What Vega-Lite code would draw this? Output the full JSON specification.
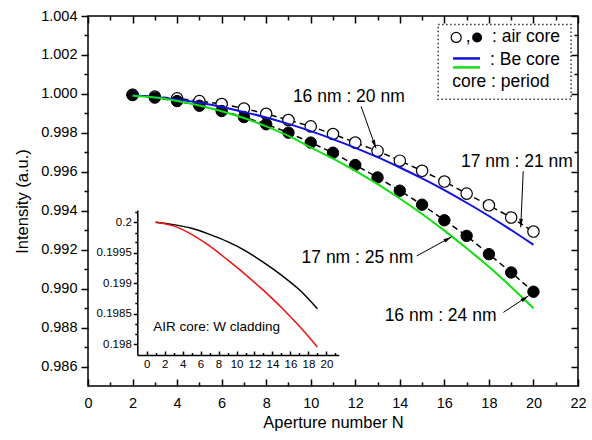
{
  "$schema": "https://vega.github.io/schema/vega-lite/v6.json",
  "width": 490,
  "height": 370,
  "autosize": {"type": "none"},
  "padding": {"left": 88, "top": 16, "right": 14, "bottom": 54},
  "config": {
    "font": "Liberation Sans",
    "view": {"stroke": "black", "strokeWidth": 1.5},
    "axis": {"grid": false, "domainColor": "black", "tickColor": "black", "labelColor": "black", "titleColor": "black", "domainWidth": 1.5, "tickWidth": 1.5, "labelFont": "Liberation Sans", "titleFont": "Liberation Sans", "titleFontWeight": "normal", "labelFlush": false, "labelOverlap": false},
    "text": {"font": "Liberation Sans"}
  },
  "datasets": {
    "air": [
      {"series": "open", "N": 2, "v": 0.99995}, {"series": "open", "N": 3, "v": 0.99986}, {"series": "open", "N": 4, "v": 0.99977}, {"series": "open", "N": 5, "v": 0.99963}, {"series": "open", "N": 6, "v": 0.99948}, {"series": "open", "N": 7, "v": 0.99925}, {"series": "open", "N": 8, "v": 0.99898}, {"series": "open", "N": 9, "v": 0.99866}, {"series": "open", "N": 10, "v": 0.99833}, {"series": "open", "N": 11, "v": 0.99794}, {"series": "open", "N": 12, "v": 0.9975}, {"series": "open", "N": 13, "v": 0.99707}, {"series": "open", "N": 14, "v": 0.99657}, {"series": "open", "N": 15, "v": 0.99605}, {"series": "open", "N": 16, "v": 0.9955}, {"series": "open", "N": 17, "v": 0.99488}, {"series": "open", "N": 18, "v": 0.99428}, {"series": "open", "N": 19, "v": 0.99365}, {"series": "open", "N": 20, "v": 0.99293},
      {"series": "filled", "N": 2, "v": 0.99995}, {"series": "filled", "N": 3, "v": 0.99981}, {"series": "filled", "N": 4, "v": 0.99963}, {"series": "filled", "N": 5, "v": 0.99939}, {"series": "filled", "N": 6, "v": 0.99912}, {"series": "filled", "N": 7, "v": 0.99881}, {"series": "filled", "N": 8, "v": 0.99844}, {"series": "filled", "N": 9, "v": 0.99801}, {"series": "filled", "N": 10, "v": 0.9975}, {"series": "filled", "N": 11, "v": 0.99698}, {"series": "filled", "N": 12, "v": 0.99635}, {"series": "filled", "N": 13, "v": 0.99571}, {"series": "filled", "N": 14, "v": 0.99503}, {"series": "filled", "N": 15, "v": 0.99431}, {"series": "filled", "N": 16, "v": 0.99351}, {"series": "filled", "N": 17, "v": 0.99271}, {"series": "filled", "N": 18, "v": 0.99177}, {"series": "filled", "N": 19, "v": 0.99083}, {"series": "filled", "N": 20, "v": 0.98984}
    ],
    "be": [
      {"series": "blue", "N": 2, "v": 0.99993}, {"series": "blue", "N": 3, "v": 0.99984}, {"series": "blue", "N": 4, "v": 0.99971}, {"series": "blue", "N": 5, "v": 0.99954}, {"series": "blue", "N": 6, "v": 0.99933}, {"series": "blue", "N": 7, "v": 0.99907}, {"series": "blue", "N": 8, "v": 0.99879}, {"series": "blue", "N": 9, "v": 0.99846}, {"series": "blue", "N": 10, "v": 0.99809}, {"series": "blue", "N": 11, "v": 0.99768}, {"series": "blue", "N": 12, "v": 0.99723}, {"series": "blue", "N": 13, "v": 0.99675}, {"series": "blue", "N": 14, "v": 0.99622}, {"series": "blue", "N": 15, "v": 0.99566}, {"series": "blue", "N": 16, "v": 0.99506}, {"series": "blue", "N": 17, "v": 0.99441}, {"series": "blue", "N": 18, "v": 0.99373}, {"series": "blue", "N": 19, "v": 0.99301}, {"series": "blue", "N": 20, "v": 0.99225},
      {"series": "green", "N": 2, "v": 0.9999}, {"series": "green", "N": 3, "v": 0.99981}, {"series": "green", "N": 4, "v": 0.99963}, {"series": "green", "N": 5, "v": 0.9994}, {"series": "green", "N": 6, "v": 0.99911}, {"series": "green", "N": 7, "v": 0.99876}, {"series": "green", "N": 8, "v": 0.99833}, {"series": "green", "N": 9, "v": 0.99784}, {"series": "green", "N": 10, "v": 0.99725}, {"series": "green", "N": 11, "v": 0.99668}, {"series": "green", "N": 12, "v": 0.99605}, {"series": "green", "N": 13, "v": 0.99537}, {"series": "green", "N": 14, "v": 0.99463}, {"series": "green", "N": 15, "v": 0.99383}, {"series": "green", "N": 16, "v": 0.99298}, {"series": "green", "N": 17, "v": 0.99207}, {"series": "green", "N": 18, "v": 0.99112}, {"series": "green", "N": 19, "v": 0.99008}, {"series": "green", "N": 20, "v": 0.98899}
    ],
    "notes": [
      {"N": 11.71, "v": 0.99982, "label": "16 nm : 20 nm"},
      {"N": 19.26, "v": 0.99649, "label": "17 nm : 21 nm"},
      {"N": 12.1, "v": 0.99155, "label": "17 nm : 25 nm"},
      {"N": 15.83, "v": 0.9886, "label": "16 nm : 24 nm"}
    ],
    "arrows": [
      {"id": "a", "end": "start", "N": 12.26, "v": 0.99936}, {"id": "a", "end": "tip", "N": 12.93, "v": 0.99721},
      {"id": "b", "end": "start", "N": 19.54, "v": 0.99603}, {"id": "b", "end": "tip", "N": 19.43, "v": 0.99315},
      {"id": "c", "end": "start", "N": 14.76, "v": 0.99168}, {"id": "c", "end": "tip", "N": 16.33, "v": 0.99266},
      {"id": "d", "end": "start", "N": 18.65, "v": 0.98878}, {"id": "d", "end": "tip", "N": 19.78, "v": 0.98963}
    ],
    "legbox": [{"N": 15.72, "N2": 21.69, "v": 1.003564, "v2": 0.99972}],
    "legsym": [{"kind": "open", "N": 16.53, "v": 1.0029}, {"kind": "filled", "N": 17.47, "v": 1.0029}],
    "leglines": [
      {"series": "blue", "N": 16.39, "v": 1.00182}, {"series": "blue", "N": 17.6, "v": 1.00182},
      {"series": "green", "N": 16.39, "v": 1.00136}, {"series": "green", "N": 17.6, "v": 1.00136}
    ],
    "legtext": [
      {"N": 16.96, "v": 1.0029, "label": ","},
      {"N": 18.14, "v": 1.0029, "label": ": air core"},
      {"N": 18.05, "v": 1.00172, "label": ": Be core"},
      {"N": 16.35, "v": 1.00059, "label": "core : period"}
    ],
    "inset": [
      {"series": "black", "N": 1, "v": 0.2}, {"series": "black", "N": 3, "v": 0.19996}, {"series": "black", "N": 5, "v": 0.1999}, {"series": "black", "N": 7, "v": 0.1998}, {"series": "black", "N": 9, "v": 0.19968}, {"series": "black", "N": 11, "v": 0.19953}, {"series": "black", "N": 13, "v": 0.19934}, {"series": "black", "N": 15, "v": 0.19913}, {"series": "black", "N": 17, "v": 0.19889}, {"series": "black", "N": 19, "v": 0.19858},
      {"series": "red", "N": 1, "v": 0.2}, {"series": "red", "N": 3, "v": 0.19994}, {"series": "red", "N": 5, "v": 0.1998}, {"series": "red", "N": 7, "v": 0.19961}, {"series": "red", "N": 9, "v": 0.19938}, {"series": "red", "N": 11, "v": 0.19914}, {"series": "red", "N": 13, "v": 0.19888}, {"series": "red", "N": 15, "v": 0.1986}, {"series": "red", "N": 17, "v": 0.19829}, {"series": "red", "N": 19, "v": 0.19795}
    ],
    "insettext": [{"N": 0.73, "v": 0.198284, "label": "AIR core: W cladding"}]
  },
  "layer": [
    {
      "layer": [
        {
          "data": {"name": "air"},
          "mark": {"type": "line", "color": "black", "strokeWidth": 1.5, "strokeDash": [6, 4]},
          "encoding": {
            "x": {"field": "N", "type": "quantitative", "scale": {"domain": [0, 22], "nice": false, "zero": false},
              "axis": {"orient": "bottom", "title": "Aperture number N", "values": [0, 2, 4, 6, 8, 10, 12, 14, 16, 18, 20, 22], "format": "d", "ticks": false, "domain": false, "labelFontSize": 14.5, "labelPadding": 10, "titleFontSize": 16.5, "titlePadding": 5}},
            "y": {"field": "v", "type": "quantitative", "scale": {"domain": [0.985, 1.004], "nice": false, "zero": false},
              "axis": {"orient": "left", "title": "Intensity (a.u.)", "values": [0.986, 0.988, 0.99, 0.992, 0.994, 0.996, 0.998, 1.0, 1.002, 1.004], "format": ".3f", "tickSize": 7, "domain": false, "labelFontSize": 14.5, "labelPadding": 4, "titleFontSize": 16.5, "titlePadding": 10}},
            "detail": {"field": "series"}
          }
        },
        {
          "data": {"name": "air"},
          "transform": [{"filter": "datum.series === 'open'"}],
          "mark": {"type": "point", "shape": "circle", "filled": true, "fill": "white", "stroke": "black", "strokeWidth": 1.2, "size": 130, "opacity": 1},
          "encoding": {"x": {"field": "N", "type": "quantitative"}, "y": {"field": "v", "type": "quantitative"}}
        },
        {
          "data": {"name": "air"},
          "transform": [{"filter": "datum.series === 'filled'"}],
          "mark": {"type": "point", "shape": "circle", "filled": true, "fill": "black", "stroke": "black", "strokeWidth": 1, "size": 130, "opacity": 1},
          "encoding": {"x": {"field": "N", "type": "quantitative"}, "y": {"field": "v", "type": "quantitative"}}
        },
        {
          "data": {"name": "be"},
          "transform": [{"filter": "datum.series === 'blue'"}],
          "mark": {"type": "line", "color": "#1010e0", "strokeWidth": 2, "interpolate": "monotone"},
          "encoding": {"x": {"field": "N", "type": "quantitative"}, "y": {"field": "v", "type": "quantitative"}}
        },
        {
          "data": {"name": "be"},
          "transform": [{"filter": "datum.series === 'green'"}],
          "mark": {"type": "line", "color": "#10e010", "strokeWidth": 2, "interpolate": "monotone"},
          "encoding": {"x": {"field": "N", "type": "quantitative"}, "y": {"field": "v", "type": "quantitative"}}
        },
        {
          "data": {"name": "arrows"},
          "mark": {"type": "line", "color": "black", "strokeWidth": 1},
          "encoding": {"x": {"field": "N", "type": "quantitative"}, "y": {"field": "v", "type": "quantitative"}, "detail": {"field": "id"}}
        },
        {
          "data": {"name": "arrows"},
          "transform": [{"filter": "datum.end === 'tip'"}],
          "mark": {"type": "point", "shape": "M0,0L0.45,2L-0.45,2Z", "filled": true, "color": "black", "size": 70, "opacity": 1},
          "encoding": {
            "x": {"field": "N", "type": "quantitative"}, "y": {"field": "v", "type": "quantitative"},
            "angle": {"condition": [{"test": "datum.id === 'a'", "value": 160}, {"test": "datum.id === 'b'", "value": 182}, {"test": "datum.id === 'c'", "value": 61}], "value": 56}
          }
        },
        {
          "data": {"name": "notes"},
          "mark": {"type": "text", "fontSize": 17.5, "align": "center", "baseline": "middle", "color": "black"},
          "encoding": {"x": {"field": "N", "type": "quantitative"}, "y": {"field": "v", "type": "quantitative"}, "text": {"field": "label"}}
        },
        {
          "data": {"name": "legbox"},
          "mark": {"type": "rect", "filled": false, "stroke": "#333333", "strokeWidth": 1.5, "strokeDash": [1.5, 2.5]},
          "encoding": {"x": {"field": "N", "type": "quantitative"}, "x2": {"field": "N2"}, "y": {"field": "v", "type": "quantitative"}, "y2": {"field": "v2"}}
        },
        {
          "data": {"name": "legsym"},
          "transform": [{"filter": "datum.kind === 'open'"}],
          "mark": {"type": "point", "shape": "circle", "filled": true, "fill": "white", "stroke": "black", "strokeWidth": 1.2, "size": 100, "opacity": 1},
          "encoding": {"x": {"field": "N", "type": "quantitative"}, "y": {"field": "v", "type": "quantitative"}}
        },
        {
          "data": {"name": "legsym"},
          "transform": [{"filter": "datum.kind === 'filled'"}],
          "mark": {"type": "point", "shape": "circle", "filled": true, "fill": "black", "size": 100, "opacity": 1},
          "encoding": {"x": {"field": "N", "type": "quantitative"}, "y": {"field": "v", "type": "quantitative"}}
        },
        {
          "data": {"name": "leglines"},
          "transform": [{"filter": "datum.series === 'blue'"}],
          "mark": {"type": "line", "color": "#1010e0", "strokeWidth": 2.5},
          "encoding": {"x": {"field": "N", "type": "quantitative"}, "y": {"field": "v", "type": "quantitative"}}
        },
        {
          "data": {"name": "leglines"},
          "transform": [{"filter": "datum.series === 'green'"}],
          "mark": {"type": "line", "color": "#10e010", "strokeWidth": 2.5},
          "encoding": {"x": {"field": "N", "type": "quantitative"}, "y": {"field": "v", "type": "quantitative"}}
        },
        {
          "data": {"name": "legtext"},
          "mark": {"type": "text", "fontSize": 17.5, "align": "left", "baseline": "middle", "color": "black"},
          "encoding": {"x": {"field": "N", "type": "quantitative"}, "y": {"field": "v", "type": "quantitative"}, "text": {"field": "label"}}
        }
      ]
    },
    {
      "data": {"name": "air"},
      "mark": {"type": "point", "opacity": 0},
      "encoding": {
        "x": {"field": "N", "type": "quantitative", "scale": {"domain": [0, 22], "nice": false, "zero": false},
          "axis": {"orient": "top", "offset": -370, "values": [0, 2, 4, 6, 8, 10, 12, 14, 16, 18, 20, 22], "tickSize": 7, "labels": false, "domain": false, "title": null}},
        "y": {"field": "v", "type": "quantitative", "scale": {"domain": [0.985, 1.004], "nice": false, "zero": false},
          "axis": {"orient": "left", "values": [0.987, 0.989, 0.991, 0.993, 0.995, 0.997, 0.999, 1.001, 1.003], "tickSize": 4, "labels": false, "domain": false, "title": null}}
      }
    },
    {
      "data": {"name": "air"},
      "mark": {"type": "point", "opacity": 0},
      "encoding": {
        "x": {"field": "N", "type": "quantitative", "scale": {"domain": [0, 22], "nice": false, "zero": false},
          "axis": {"orient": "top", "offset": -370, "values": [1, 3, 5, 7, 9, 11, 13, 15, 17, 19, 21], "tickSize": 4, "labels": false, "domain": false, "title": null}},
        "y": {"field": "v", "type": "quantitative", "scale": {"domain": [0.985, 1.004], "nice": false, "zero": false},
          "axis": {"orient": "left", "offset": -490, "values": [0.986, 0.988, 0.99, 0.992, 0.994, 0.996, 0.998, 1.0, 1.002, 1.004], "tickSize": 7, "labels": false, "domain": false, "title": null}}
      }
    },
    {
      "data": {"name": "air"},
      "mark": {"type": "point", "opacity": 0},
      "encoding": {
        "x": {"field": "N", "type": "quantitative", "scale": {"domain": [0, 22], "nice": false, "zero": false},
          "axis": {"orient": "bottom", "offset": -370, "values": [0, 2, 4, 6, 8, 10, 12, 14, 16, 18, 20, 22], "tickSize": 7, "labels": false, "domain": false, "title": null}},
        "y": {"field": "v", "type": "quantitative", "scale": {"domain": [0.985, 1.004], "nice": false, "zero": false},
          "axis": {"orient": "left", "offset": -490, "values": [0.987, 0.989, 0.991, 0.993, 0.995, 0.997, 0.999, 1.001, 1.003], "tickSize": 4, "labels": false, "domain": false, "title": null}}
      }
    },
    {
      "data": {"name": "air"},
      "mark": {"type": "point", "opacity": 0},
      "encoding": {
        "x": {"field": "N", "type": "quantitative", "scale": {"domain": [0, 22], "nice": false, "zero": false},
          "axis": {"orient": "bottom", "offset": -370, "values": [1, 3, 5, 7, 9, 11, 13, 15, 17, 19, 21], "tickSize": 4, "labels": false, "domain": false, "title": null}},
        "y": {"field": "v", "type": "quantitative", "scale": {"domain": [0.985, 1.004], "nice": false, "zero": false}, "axis": null}
      }
    },
    {
      "layer": [
        {
          "data": {"name": "inset"},
          "transform": [{"filter": "datum.series === 'black'"}],
          "mark": {"type": "line", "color": "black", "strokeWidth": 1.5, "interpolate": "monotone"},
          "encoding": {
            "x": {"field": "N", "type": "quantitative", "scale": {"domain": [-1.04, 21.37], "range": [49.3, 250.7], "nice": false, "zero": false},
              "axis": {"orient": "bottom", "offset": -31, "values": [0, 2, 4, 6, 8, 10, 12, 14, 16, 18, 20], "format": "d", "ticks": false, "domain": true, "labelFontSize": 11.5, "labelPadding": 3, "title": null}},
            "y": {"field": "v", "type": "quantitative", "scale": {"domain": [0.19782, 0.2002], "range": [339, 194], "nice": false, "zero": false},
              "axis": {"orient": "left", "offset": -49.3, "values": [0.198, 0.1985, 0.199, 0.1995, 0.2], "format": ".4~f", "tickSize": 4, "domain": true, "labelFontSize": 11.5, "labelPadding": 2, "title": null}}
          }
        },
        {
          "data": {"name": "inset"},
          "transform": [{"filter": "datum.series === 'red'"}],
          "mark": {"type": "line", "color": "#ee1111", "strokeWidth": 1.5, "interpolate": "monotone"},
          "encoding": {"x": {"field": "N", "type": "quantitative"}, "y": {"field": "v", "type": "quantitative"}}
        },
        {
          "data": {"name": "insettext"},
          "mark": {"type": "text", "fontSize": 13.5, "align": "left", "baseline": "middle", "color": "black"},
          "encoding": {"x": {"field": "N", "type": "quantitative"}, "y": {"field": "v", "type": "quantitative"}, "text": {"field": "label"}}
        }
      ]
    },
    {
      "data": {"name": "inset"},
      "mark": {"type": "point", "opacity": 0},
      "encoding": {
        "x": {"field": "N", "type": "quantitative", "scale": {"domain": [-1.04, 21.37], "range": [49.3, 250.7], "nice": false, "zero": false},
          "axis": {"orient": "top", "offset": -339, "values": [0, 2, 4, 6, 8, 10, 12, 14, 16, 18, 20], "tickSize": 4, "labels": false, "domain": false, "title": null}},
        "y": {"field": "v", "type": "quantitative", "scale": {"domain": [0.19782, 0.2002], "range": [339, 194], "nice": false, "zero": false},
          "axis": {"orient": "left", "offset": -49.3, "values": [0.19817, 0.19833, 0.19867, 0.19883, 0.19917, 0.19933, 0.19967, 0.19983, 0.20017], "tickSize": 2.5, "labels": false, "domain": false, "title": null}}
      }
    },
    {
      "data": {"name": "inset"},
      "mark": {"type": "point", "opacity": 0},
      "encoding": {
        "x": {"field": "N", "type": "quantitative", "scale": {"domain": [-1.04, 21.37], "range": [49.3, 250.7], "nice": false, "zero": false},
          "axis": {"orient": "top", "offset": -339, "values": [1, 3, 5, 7, 9, 11, 13, 15, 17, 19, 21], "tickSize": 2.5, "labels": false, "domain": false, "title": null}},
        "y": {"field": "v", "type": "quantitative", "scale": {"domain": [0.19782, 0.2002], "range": [339, 194], "nice": false, "zero": false}, "axis": null}
      }
    }
  ],
  "resolve": {"scale": {"x": "independent", "y": "independent"}, "axis": {"x": "independent", "y": "independent"}}
}
